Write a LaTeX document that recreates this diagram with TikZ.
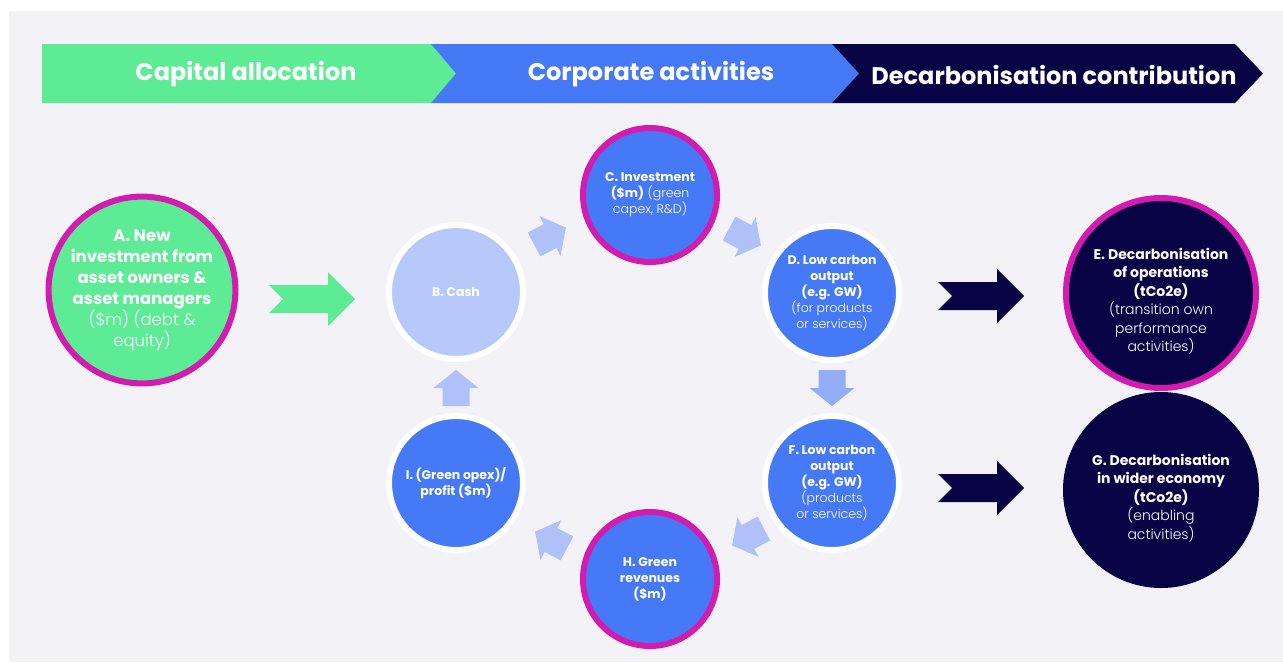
\documentclass[tikz,border=0pt]{standalone}
\usepackage{fontspec}
\setmainfont{Poppins}
\newfontfamily\lightfont{Poppins Light}
\usepackage{tikz}
\usetikzlibrary{calc}
\definecolor{bggrey}{HTML}{F2F2F7}
\definecolor{mint}{HTML}{5DEB96}
\definecolor{corpblue}{HTML}{4679F5}
\definecolor{navy}{HTML}{070345}
\definecolor{ringpink}{HTML}{D31BB0}
\definecolor{cashblue}{HTML}{B6C9FA}
\definecolor{flowblue}{HTML}{B0C0F8}
\definecolor{downblue}{HTML}{93AEF7}
\tikzstyle{stage} = [circle, text=white, align=center, line width=6pt, inner sep=0pt, minimum size=134pt, font=\fontsize{12.5}{16}\selectfont\lightfont]
\tikzstyle{bigstage} = [stage, minimum size=190pt]
\tikzstyle{bigtext} = [text=white, align=center, inner sep=0pt, font=\fontsize{14}{18.5}\selectfont\lightfont]
\tikzstyle{banner} = [text=white, font=\fontsize{24}{28}\selectfont\bfseries]
\newcommand{\hd}[1]{{\normalfont\bfseries #1}}
\tikzset{
  pics/flowarrow/.style={code={\path[pic actions] (-18,-13.5) -- (0,-13.5) -- (0,-22.5) -- (18,0) -- (0,22.5) -- (0,13.5) -- (-18,13.5) -- cycle;}},
  pics/bigarrow/.style={code={\path[pic actions] (-43,-14) -- (16,-14) -- (16,-27) -- (43,0) -- (16,27) -- (16,14) -- (-43,14) -- (-29,0) -- cycle;}}
}

\begin{document}
\begin{tikzpicture}[x=1pt, y=-1pt]
  \useasboundingbox (0,0) rectangle (1283,662);
  \fill[white] (0,0) rectangle (1283,662);
  \fill[bggrey] (9,11) rectangle (1283,662);

  % Banner
  \fill[mint] (42,44) -- (431,44) -- (456,73.5) -- (431,103) -- (42,103) -- cycle;
  \fill[corpblue] (431,44) -- (832,44) -- (859,73.5) -- (832,103) -- (431,103) -- (456,73.5) -- cycle;
  \fill[navy] (832,44) -- (1235,44) -- (1263,73.5) -- (1235,103) -- (832,103) -- (859,73.5) -- cycle;
  \node[banner] (capital) at (246,74.5) {Capital allocation};
  \node[banner] (corporate) at (651,74.5) {Corporate activities};
  \node[banner] (decarb) at (1054,74.5) {Decarbonisation contribution};

  % Node positions
  \node[stage, minimum size=184pt, fill=mint, draw=ringpink, font=\fontsize{16.5}{21}\selectfont\lightfont] (A) at (142,290)
    {\hd{A. New}\\\hd{investment from}\\\hd{asset owners \&}\\\hd{asset managers}\\(\$m) (debt \&\\equity)};
  \node[stage, fill=cashblue, draw=white] (B) at (456,292) {\hd{B. Cash}};
  \node[stage, fill=corpblue, draw=ringpink] (C) at (650,195) {\hd{C. Investment}\\\hd{(\$m)} (green\\capex, R\&D)};
  \node[stage, fill=corpblue, draw=white] (D) at (832,293)
    {\hd{D. Low carbon}\\\hd{output}\\\hd{(e.g. GW)}\\(for products\\or services)};
  \node[bigstage, fill=navy, draw=ringpink] (E) at (1161,293) {};
  \node[bigtext] (Etxt) at ($(E)+(0,8)$)
    {\hd{E. Decarbonisation}\\\hd{of operations}\\\hd{(tCo2e)}\\(transition own\\performance\\activities)};
  \node[stage, fill=corpblue, draw=white] (F) at (832,483)
    {\hd{F. Low carbon}\\\hd{output}\\\hd{(e.g. GW)}\\(products\\or services)};
  \node[bigstage, minimum size=196pt, line width=0pt, fill=navy] (G) at (1161,490) {};
  \node[bigtext] (Gtxt) at ($(G)+(0,8)$)
    {\hd{G. Decarbonisation}\\\hd{in wider economy}\\\hd{(tCo2e)}\\(enabling\\activities)};
  \node[stage, fill=corpblue, draw=ringpink] (H) at (650,579) {\hd{H. Green}\\\hd{revenues}\\\hd{(\$m)}};
  \node[stage, fill=corpblue, draw=white] (I) at (456,483) {\hd{I. (Green opex)/}\\\hd{profit (\$m)}};

  % Flow arrows
  \pic[fill=mint] at (312,299) {bigarrow};
  \pic[fill=navy] at (981,296) {bigarrow};
  \pic[fill=navy] at (981,488) {bigarrow};
  \pic[fill=flowblue, rotate=28] at (550,236) {flowarrow};
  \pic[fill=flowblue, rotate=-28] at (745,237) {flowarrow};
  \pic[fill=downblue, rotate=-90] at (832,388) {flowarrow};
  \pic[fill=flowblue, rotate=208] at (748,537) {flowarrow};
  \pic[fill=flowblue, rotate=152] at (551,540) {flowarrow};
  \pic[fill=flowblue, rotate=90] at (456,388) {flowarrow};

\end{tikzpicture}
\end{document}
